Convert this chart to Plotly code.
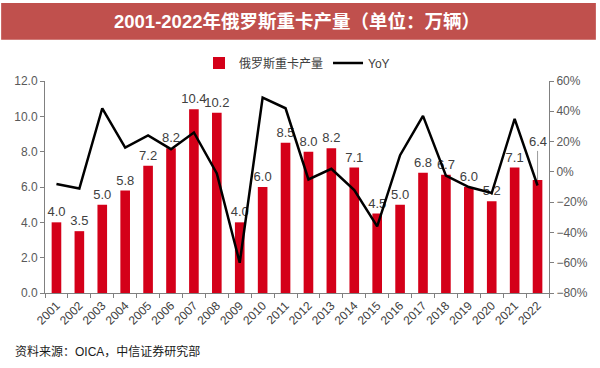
import plotly.graph_objects as go

years = list(range(2001, 2023))
year_labels = [str(y) for y in years]
production = [4.0, 3.5, 5.0, 5.8, 7.2, 8.2, 10.4, 10.2, 4.0, 6.0, 8.5, 8.0, 8.2, 7.1, 4.5, 5.0, 6.8, 6.7, 6.0, 5.2, 7.1, 6.4]
yoy = [-8, -11, 42, 16, 24, 15, 26, -1, -60, 49, 42, -5, 2, -12, -36, 11, 37, -2.5, -10, -14, 35, -9]

FONT = "Arial, Liberation Sans, Noto Sans CJK SC, sans-serif"
bar_text = [f"{v:.1f}" for v in production[:-1]] + [""]

fig = go.Figure()
fig.add_trace(go.Bar(
    x=years, y=production, name="俄罗斯重卡产量",
    marker=dict(color="#D40019", line=dict(width=0)),
    width=0.42,
    text=bar_text, textposition="outside", cliponaxis=False,
    constraintext="none",
    textfont=dict(size=13, color="#404040", family=FONT),
))
fig.add_trace(go.Scatter(
    x=years, y=yoy, name="YoY", yaxis="y2", mode="lines",
    line=dict(color="#000000", width=2.5),
))

fig.add_annotation(
    x=years[-1], y=production[-1], text=f"{production[-1]:.1f}",
    showarrow=True, arrowhead=0, arrowwidth=0.8, arrowcolor="#808080",
    ax=0, ay=-38, font=dict(size=13, color="#404040", family=FONT),
)

# Title bar
fig.add_shape(type="rect", xref="paper", yref="paper",
              x0=-0.087, x1=1.093, y0=1.195, y1=1.368,
              fillcolor="#C0504D", line=dict(width=0), layer="below")
fig.add_annotation(xref="paper", yref="paper", x=0.5, y=1.283,
                   text="<b>2001-2022年俄罗斯重卡产量（单位：万辆）</b>",
                   showarrow=False, xanchor="center", yanchor="middle",
                   font=dict(size=18.5, color="white", family=FONT))
fig.add_annotation(xref="paper", yref="paper", x=-0.063, y=-0.278,
                   text="资料来源：OICA，中信证券研究部",
                   showarrow=False, xanchor="left", yanchor="middle",
                   font=dict(size=12, color="#1a1a1a", family=FONT))

axis_common = dict(showgrid=False, zeroline=False, showline=True,
                   linecolor="#808080", linewidth=1, ticks="outside",
                   ticklen=4, tickcolor="#808080",
                   tickfont=dict(size=12, color="#595959", family=FONT))

fig.update_layout(
    width=600, height=368,
    margin=dict(l=45, r=48, t=81, b=75),
    paper_bgcolor="white", plot_bgcolor="white",
    font=dict(family=FONT, color="#404040"),
    showlegend=True,
    legend=dict(orientation="h", x=0.5, xanchor="center", y=1.085, yanchor="middle",
                font=dict(size=12, color="#404040", family=FONT),
                bgcolor="rgba(0,0,0,0)"),
    xaxis=dict(type="linear", range=[years[0] - 0.5, years[-1] + 0.5],
               tickmode="array", tickvals=years, ticktext=year_labels,
               tickangle=-45, ticks="",
               minor=dict(ticks="outside", tickmode="linear", tick0=years[0] - 0.5,
                          dtick=1, ticklen=4, tickcolor="#808080", showgrid=False),
               showgrid=False, zeroline=False, showline=True,
               linecolor="#808080",
               tickfont=dict(size=12, color="#404040", family=FONT)),
    yaxis=dict(range=[0, 12], dtick=2, tickformat=".1f", **axis_common),
    yaxis2=dict(range=[-80, 60], dtick=20, ticksuffix="%", overlaying="y",
                side="right", **axis_common),
)

fig.write_html("out.html", config={"displayModeBar": False},
               post_script="document.body.style.margin='0';")
